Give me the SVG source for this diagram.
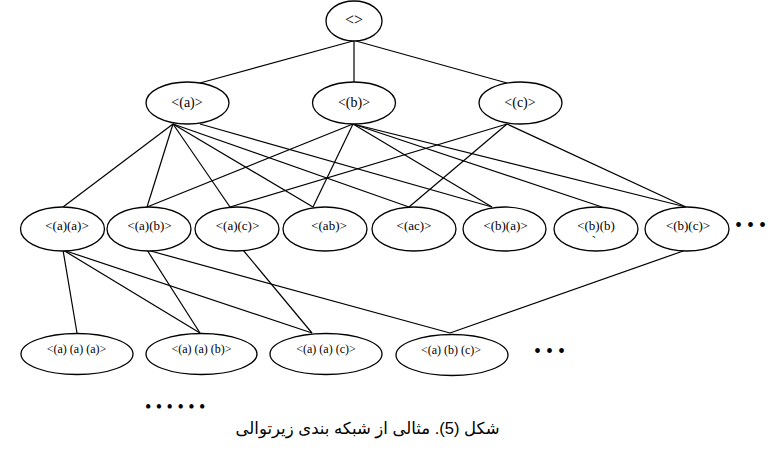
<svg xmlns="http://www.w3.org/2000/svg" width="768" height="453" viewBox="0 0 768 453">
<style>
.n ellipse{fill:#fff;stroke:#000;stroke-width:1.3}
.t{font-family:"Liberation Serif","Times New Roman","DejaVu Serif",serif;fill:#000;text-anchor:middle}
#edges line{stroke:#000;stroke-width:1.2}
.dots{font-family:"Liberation Serif",serif;fill:#000}
.cap{font-family:"Liberation Sans","DejaVu Sans",sans-serif;font-size:16.5px;fill:#000;text-anchor:middle}
</style>
<rect width="768" height="453" fill="#fff"/>
<g id="edges">
<line x1="353" y1="41" x2="200" y2="83"/>
<line x1="354" y1="41" x2="354" y2="82"/>
<line x1="356" y1="41" x2="507" y2="83"/>
<line x1="173" y1="124" x2="63" y2="207"/>
<line x1="173" y1="124" x2="147" y2="207"/>
<line x1="173" y1="124" x2="230" y2="207"/>
<line x1="173" y1="124" x2="313" y2="207"/>
<line x1="173" y1="124" x2="409" y2="207"/>
<line x1="200" y1="124" x2="492" y2="207"/>
<line x1="353" y1="124" x2="147" y2="207"/>
<line x1="353" y1="124" x2="313" y2="207"/>
<line x1="353" y1="124" x2="492" y2="207"/>
<line x1="353" y1="124" x2="602" y2="207"/>
<line x1="353" y1="124" x2="686" y2="207"/>
<line x1="507" y1="124" x2="230" y2="207"/>
<line x1="507" y1="124" x2="409" y2="207"/>
<line x1="507" y1="124" x2="686" y2="207"/>
<line x1="63" y1="250" x2="77" y2="333"/>
<line x1="63" y1="250" x2="200" y2="333"/>
<line x1="63" y1="250" x2="312" y2="333"/>
<line x1="147" y1="250" x2="200" y2="333"/>
<line x1="147" y1="250" x2="450" y2="333"/>
<line x1="243" y1="250" x2="312" y2="333"/>
<line x1="686" y1="250" x2="450" y2="333"/>
</g>
<g id="root" class="n"><ellipse cx="354" cy="21" rx="28" ry="20"/><text class="t" x="354" y="25" font-size="16">&lt;&gt;</text></g>
<g id="a" class="n"><ellipse cx="187.5" cy="103" rx="41.5" ry="21"/><text class="t" x="187" y="107" font-size="14">&lt;(a)&gt;</text></g>
<g id="b" class="n"><ellipse cx="354" cy="103" rx="41.5" ry="21"/><text class="t" x="354" y="107" font-size="14">&lt;(b)&gt;</text></g>
<g id="c" class="n"><ellipse cx="520.5" cy="103" rx="41.5" ry="21"/><text class="t" x="520" y="107" font-size="14">&lt;(c)&gt;</text></g>
<g id="aa" class="n"><ellipse cx="62.5" cy="229" rx="42" ry="22"/><text class="t" x="67" y="229.5" font-size="13">&lt;(a)(a)&gt;</text></g>
<g id="ab2" class="n"><ellipse cx="149" cy="229" rx="42" ry="22"/><text class="t" x="149.5" y="229.5" font-size="13">&lt;(a)(b)&gt;</text></g>
<g id="ac2" class="n"><ellipse cx="237" cy="229" rx="42" ry="22"/><text class="t" x="237.5" y="229.5" font-size="13">&lt;(a)(c)&gt;</text></g>
<g id="ab" class="n"><ellipse cx="325" cy="229" rx="42" ry="22"/><text class="t" x="329" y="229.5" font-size="13">&lt;(ab)&gt;</text></g>
<g id="ac" class="n"><ellipse cx="414" cy="229" rx="42" ry="22"/><text class="t" x="414" y="229.5" font-size="13">&lt;(ac)&gt;</text></g>
<g id="ba" class="n"><ellipse cx="504.5" cy="229" rx="41.5" ry="22"/><text class="t" x="505.5" y="229.5" font-size="13">&lt;(b)(a)&gt;</text></g>
<g id="bb" class="n"><ellipse cx="596" cy="229" rx="42" ry="22"/><text class="t" x="596" y="229.5" font-size="13">&lt;(b)(b)</text><text class="t" x="594" y="245" font-size="13">`</text></g>
<g id="bc" class="n"><ellipse cx="687" cy="229" rx="42" ry="22"/><text class="t" x="688" y="229.5" font-size="13">&lt;(b)(c)&gt;</text></g>
<g id="aaa" class="n"><ellipse cx="77" cy="354" rx="56" ry="20.5"/><text class="t" x="76.5" y="353" font-size="12">&lt;(a) (a) (a)&gt;</text></g>
<g id="aab" class="n"><ellipse cx="201.5" cy="354" rx="55.5" ry="20.5"/><text class="t" x="201.5" y="353" font-size="12">&lt;(a) (a) (b)&gt;</text></g>
<g id="aac" class="n"><ellipse cx="326" cy="354" rx="56" ry="20.5"/><text class="t" x="326" y="353" font-size="12">&lt;(a) (a) (c)&gt;</text></g>
<g id="abc" class="n"><ellipse cx="452" cy="355" rx="56" ry="20.5"/><text class="t" x="451" y="354" font-size="12">&lt;(a) (b) (c)&gt;</text></g>
<text class="dots" x="735" y="232" font-size="20">• • •</text>
<text class="dots" x="534" y="358" font-size="20">• • •</text>
<text class="dots" x="145" y="413" font-size="18">• • • • • •</text>
<text class="cap" x="367.5" y="434" direction="rtl">شکل (5). مثالی از شبکه بندی زیرتوالی</text>
</svg>
